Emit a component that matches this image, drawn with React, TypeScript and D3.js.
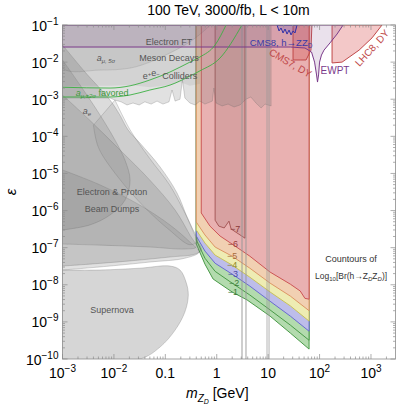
import React from "react";
import * as d3 from "d3";

type Pt = [number, number];

// axis ticks
const xTicks = [1e-3, 1e-2, 0.1, 1, 10, 100, 1000];
const xTickBase = ["10", "10", "0.1", "1", "10", "10", "10"];
const xTickExp = ["−3", "−2", "", "", "", "2", "3"];
const yTicks = [1e-1, 1e-2, 1e-3, 1e-4, 1e-5, 1e-6, 1e-7, 1e-8, 1e-9, 1e-10];
const yTickExp = ["−1", "−2", "−3", "−4", "−5", "−6", "−7", "−8", "−9", "−10"];

// contours of log10 Br(h -> ZD ZD), [mZD GeV, epsilon]
const brM7: Pt[] = [[0.93, 0.1], [0.93, 5.5e-7], [1.1, 3.8e-7], [1.4, 3.4e-7], [1.73, 5.2e-7], [1.9, 3.2e-7], [2.37, 2.6e-7], [3.55, 1.8e-7], [3.55, 0.1]];
const brM6: Pt[] = [[0.5, 0.1], [0.5, 8.6e-7], [0.74, 3.8e-7], [1.16, 2.06e-7], [1.99, 1.25e-7], [4.4, 5.9e-8], [10.9, 2.2e-8], [27, 1.04e-8], [42, 6.8e-9], [52, 4.3e-9], [62.5, 4.1e-9]];
const brM5: Pt[] = [[0.4, 0.1], [0.4, 4.9e-7], [0.59, 2.2e-7], [0.93, 1.04e-7], [1.99, 5.9e-8], [4.4, 2.8e-8], [10.9, 1.11e-8], [27, 4.96e-9], [62.5, 2.0e-9]];
const brM4: Pt[] = [[0.4, 0.1], [0.4, 3.0e-7], [0.59, 1.33e-7], [0.93, 6.3e-8], [1.99, 3.4e-8], [4.4, 1.6e-8], [10.9, 6.4e-9], [27, 2.7e-9], [62.5, 1.05e-9]];
const brM3: Pt[] = [[0.4, 0.1], [0.4, 2.06e-7], [0.59, 8.1e-8], [0.93, 3.8e-8], [1.99, 1.94e-8], [4.4, 9.2e-9], [10.9, 3.6e-9], [27, 1.43e-9], [62.5, 5.6e-10]];
const brM2: Pt[] = [[0.4, 0.1], [0.4, 1.6e-7], [0.59, 5.2e-8], [0.93, 2.3e-8], [1.99, 1.11e-8], [4.4, 5.3e-9], [10.9, 2.1e-9], [27, 8.2e-10], [62.5, 3.2e-10]];
const brM1: Pt[] = [[0.4, 0.1], [0.4, 1.25e-7], [0.59, 3.6e-8], [0.85, 1.43e-8], [1.99, 6.4e-9], [3.9, 3.9e-9], [10.9, 1.43e-9], [27, 5.0e-10], [62.5, 1.85e-10]];
const contourLabels = ["−7", "−6", "−5", "−4", "−3", "−2", "−1"];
const contourLabelM = [2.27, 2.07, 1.99, 1.99, 2.07, 2.17, 2.07];
const contourLabelEps = [3.2e-7, 1.25e-7, 5.9e-8, 3.4e-8, 1.94e-8, 1.11e-8, 6.4e-9];

// existing limits
const eeColliders: Pt[] = [[1e-3, 0.1], [11.4, 0.1], [11.4, 6.6e-4], [8.7, 7.4e-4], [7.3, 5.8e-4], [5.8, 7.9e-4], [4.6, 1.15e-3], [3.7, 1.0e-3], [2.84, 7.0e-4], [2.17, 6.2e-4], [1.66, 7.4e-4], [1.27, 6.6e-4], [0.97, 7.9e-4], [0.88, 2.0e-3], [0.82, 8.9e-4], [0.59, 7.4e-4], [0.47, 8.9e-4], [0.38, 7.0e-4], [0.3, 7.9e-4], [0.24, 1.08e-3], [0.215, 3.3e-3], [0.193, 1.0e-3], [0.155, 8.9e-4], [0.135, 1.77e-3], [0.118, 8.5e-4], [0.09, 7.4e-4], [0.069, 8.9e-4], [0.053, 7.4e-4], [0.04, 8.5e-4], [0.031, 7.0e-4], [0.0235, 7.9e-4], [0.018, 7.0e-4], [0.0138, 8.5e-4], [0.0105, 9.5e-4], [0.0084, 1.08e-3], [1e-3, 1.08e-3]];
const mesonDecays: Pt[] = [[1e-3, 0.1], [0.47, 0.1], [0.47, 2.6e-3], [0.3, 2.3e-3], [0.193, 2.9e-3], [0.123, 2.4e-3], [0.05, 2.1e-3], [0.0206, 2.4e-3], [0.0084, 2.3e-3], [1e-3, 2.3e-3]];
const amu5sigma: Pt[] = [[1e-3, 0.1], [1e-3, 6.9e-3], [0.0054, 6.1e-3], [0.0206, 6.9e-3], [0.05, 0.01], [0.123, 0.0176], [0.3, 0.035], [0.59, 0.073], [0.74, 0.1]];
const bdE137: Pt[] = [[1e-3, 0.029], [0.00274, 0.0054], [0.0084, 9.5e-4], [0.0131, 3.7e-4], [0.0188, 1.5e-4], [0.032, 6.6e-5], [0.079, 1.5e-5], [0.169, 2.96e-6], [0.264, 6.7e-7], [0.414, 1.6e-7], [0.5, 8.6e-8], [0.38, 6.7e-8], [0.123, 5.6e-8], [0.0206, 4.4e-8], [0.0034, 3.6e-8], [1e-3, 3.2e-8]];
const bdE141: Pt[] = [[1e-3, 1.3e-3], [0.0034, 2.7e-4], [0.0131, 4.3e-5], [0.05, 6.6e-6], [0.155, 1.03e-6], [0.3, 2.2e-7], [0.4, 1.04e-7], [0.24, 9.2e-8], [0.05, 1.04e-7], [0.0054, 1.17e-7], [1e-3, 1.25e-7]];
const bdOrsay: Pt[] = [[1e-3, 0.0114], [0.0022, 0.0024], [0.0054, 3.7e-4], [0.0105, 7.9e-5], [0.0164, 2.3e-5], [0.0206, 6.6e-6], [0.0164, 1.9e-6], [0.0084, 7.6e-7], [0.0034, 4.1e-7], [1e-3, 3.0e-7]];
const bdProton: Pt[] = [[1e-3, 1.24e-5], [0.0054, 4.9e-6], [0.032, 1.4e-6], [0.123, 4.1e-7], [0.3, 1.42e-7], [0.45, 7.6e-8], [0.24, 5.2e-8], [0.05, 4.1e-8], [0.0084, 3.2e-8], [1e-3, 2.5e-8]];
const bdU70: Pt[] = [[0.0105, 9.5e-4], [0.0206, 1.5e-4], [0.05, 2.5e-5], [0.12, 5e-6], [0.22, 1.1e-6], [0.33, 3.5e-7], [0.42, 1.5e-7], [0.3, 1.2e-7], [0.12, 3e-7], [0.04, 1.2e-6], [0.012, 8e-6], [0.005, 5e-5], [0.004, 2e-4]];
const supernova: Pt[] = [[1e-3, 2.5e-8], [0.0054, 2.5e-8], [0.032, 2.8e-8], [0.123, 3.2e-8], [0.193, 2.5e-8], [0.253, 1.18e-8], [0.28, 5.3e-9], [0.24, 1.84e-9], [0.155, 6.0e-10], [0.079, 2.1e-10], [0.032, 1e-10], [1e-3, 1e-10]];
const ewpt: Pt[] = [[1e-3, 0.1], [1e-3, 0.0255], [27, 0.0255], [52, 0.024], [69.8, 0.0187], [80, 0.01], [87.5, 0.0045], [91.2, 0.0029], [95.7, 0.0045], [100, 0.01], [109, 0.0155], [122, 0.021], [160, 0.033], [219, 0.057], [287, 0.1]];
const cms7: Pt[] = [[30.5, 0.1], [30.5, 0.0114], [42, 0.0114], [54.6, 0.0114], [68, 0.021], [71, 0.1]];
const lhc8: Pt[] = [[175, 0.1], [175, 0.0095], [274, 0.01], [587, 0.021], [1050, 0.045], [1640, 0.1]];
const cms8: Pt[] = [[14.9, 0.1], [16.3, 0.069], [17.8, 0.083], [19.5, 0.061], [21.3, 0.078], [23.3, 0.057], [25.5, 0.073], [27.9, 0.054], [30.5, 0.069], [33.3, 0.061], [36.5, 0.1]];
const amuUpper: Pt[] = [[1e-3, 0.0021], [0.0084, 0.002], [0.0206, 0.0023], [0.05, 0.0033], [0.123, 0.0054], [0.3, 0.01], [0.47, 0.0137], [0.93, 0.029], [1.52, 0.1]];
const amuLower: Pt[] = [[1e-3, 0.00115], [0.0084, 0.00115], [0.0206, 0.0013], [0.05, 0.00177], [0.123, 0.0024], [0.3, 0.0042], [0.47, 0.0058], [1.16, 0.0129], [3.1, 0.1]];
const vetoLow = [3.0, 3.6, 9.4];
const vetoHigh = [3.2, 3.8, 10.6];

const font = "'Liberation Sans', Arial, Helvetica, sans-serif";

export default function App() {
  const x = d3.scaleLog().domain([1e-3, 3e3]).range([62.5, 395.5]);
  const y = d3.scaleLog().domain([1e-10, 1e-1]).range([359, 25]);
  const line = d3.line<Pt>().x((d) => x(d[0])).y((d) => y(d[1]));
  const smooth = d3.line<Pt>().x((d) => x(d[0])).y((d) => y(d[1])).curve(d3.curveCatmullRom);
  const mono = d3.line<Pt>().x((d) => x(d[0])).y((d) => y(d[1])).curve(d3.curveMonotoneX);
  const corner: Pt = [62.5, 0.1];
  const poly = (pts: Pt[]) => line(pts) + "Z";
  const band = (pts: Pt[]) => line([...pts, corner]) + "Z";

  const bands = [
    { pts: brM1, fill: "#b3dbae", stroke: "#4a9a48" },
    { pts: brM2, fill: "#b3dbae", stroke: "#4a9a48" },
    { pts: brM3, fill: "#bdbdea", stroke: "#6a6ad0" },
    { pts: brM4, fill: "#eeecb3", stroke: "#c9c25a" },
    { pts: brM5, fill: "#f1d0b2", stroke: "#dc9565" },
    { pts: brM6, fill: "#e9b1b1", stroke: "#cc5555" },
  ];
  const labelColors = ["#8a3a3a", "#9a3a3a", "#a86a3a", "#8f8a2a", "#4a4aa8", "#3a7a3a", "#3a7a3a"];

  const grayStyle = { fill: "#777", fillOpacity: 0.22, stroke: "#666", strokeOpacity: 0.45, strokeWidth: 0.6 };

  const minorX: number[] = [];
  for (let k = -3; k <= 3; k++) for (let j = 2; j <= 9; j++) if (j * 10 ** k < 3e3) minorX.push(j * 10 ** k);
  const minorY: number[] = [];
  for (let k = -10; k <= -2; k++) for (let j = 2; j <= 9; j++) minorY.push(j * 10 ** k);

  const x0 = 62.5, x1 = 395.5, y0 = 25, y1 = 359;
  const tickColor = "#8c8c8c";

  return (
    <svg width={399} height={408} style={{ position: "absolute", left: 0, top: 0, fontFamily: font }}>
      <defs>
        <clipPath id="plot">
          <rect x={x0} y={y0} width={x1 - x0} height={y1 - y0} />
        </clipPath>
      </defs>
      <rect x={0} y={0} width={399} height={408} fill="#fff" />
      <g clipPath="url(#plot)">
        {bands.map((b, i) => (
          <path key={i} d={band(b.pts)} fill={b.fill} stroke={b.stroke} strokeWidth={1} />
        ))}
        <path d={poly(brM7)} fill="#7a4a4a" fillOpacity={0.15} stroke="#a05050" strokeWidth={0.9} />

        <path d={smooth(supernova) + "Z"} {...grayStyle} fillOpacity={0.3} />
        <path d={smooth(bdProton) + "Z"} {...grayStyle} />
        <path d={smooth(bdU70) + "Z"} {...grayStyle} fillOpacity={0.14} />
        <path d={smooth(bdE141) + "Z"} {...grayStyle} />
        <path d={smooth(bdOrsay) + "Z"} {...grayStyle} />
        <path d={smooth(bdE137) + "Z"} {...grayStyle} fillOpacity={0.26} />
        <path d={poly(eeColliders)} {...grayStyle} />
        <path d={poly(mesonDecays)} fill="#777" fillOpacity={0.12} stroke="none" />
        <path d={smooth(amu5sigma) + "Z"} {...grayStyle} fillOpacity={0.12} strokeOpacity={0.3} />

        {vetoLow.map((v, i) => (
          <rect key={i} x={x(v)} y={y0} width={x(vetoHigh[i]) - x(v)} height={y1 - y0}
            fill="#999" fillOpacity={0.35} stroke="#999" strokeOpacity={0.6} strokeWidth={0.5} />
        ))}

        <path d={poly(cms7)} fill="#d04a4a" fillOpacity={0.3} stroke="#c04848" strokeWidth={1} />
        <path d={poly(lhc8)} fill="#d84a4a" fillOpacity={0.3} stroke="#c04848" strokeWidth={1} />
        <path d={poly(ewpt)} fill="#8a5a96" fillOpacity={0.18} stroke="#7a3a8a" strokeWidth={1} />
        <path d={poly(cms8)} fill="#4040c0" fillOpacity={0.18} stroke="#3030a8" strokeWidth={1} />

        <path d={mono(amuUpper) ?? ""} fill="none" stroke="#3cb043" strokeWidth={0.9} />
        <path d={mono(amuLower) ?? ""} fill="none" stroke="#3cb043" strokeWidth={0.9} />
      </g>

      {/* region labels */}
      <g fill="#555" fontSize={9} textAnchor="middle">
        <text x={x(0.118)} y={y(0.036)} dy="0.35em">Electron FT</text>
        <text x={x(0.118)} y={y(0.0129)} dy="0.35em">Meson Decays</text>
        <text x={x(0.123)} y={y(0.0042)} dy="0.35em">
          e<tspan dy={-3} fontSize={6}>+</tspan><tspan dy={0}>e</tspan><tspan dy={0} fontSize={6}>−</tspan><tspan dy={3}> Colliders</tspan>
        </text>
        <text x={x(0.007)} y={y(0.0129)} dy="0.35em">
          <tspan fontStyle="italic">a</tspan><tspan dy={2} fontSize={6} fontStyle="italic">μ, 5σ</tspan>
        </text>
        <text x={x(0.003)} y={y(4.8e-4)} dy="0.35em">
          <tspan fontStyle="italic">a</tspan><tspan dy={2} fontSize={6} fontStyle="italic">e</tspan>
        </text>
        <text x={x(0.0092)} y={y(3.2e-6)} dy="0.35em">Electron &amp; Proton</text>
        <text x={x(0.0092)} y={y(1.1e-6)} dy="0.35em">Beam Dumps</text>
        <text x={x(0.0092)} y={y(2.1e-9)} dy="0.35em">Supernova</text>
      </g>
      <text x={x(0.0059)} y={y(0.00147)} dy="0.35em" fill="#3a9a3a" fontSize={9} textAnchor="middle">
        <tspan fontStyle="italic">a</tspan><tspan dy={2} fontSize={6} fontStyle="italic">μ,±2σ</tspan><tspan dy={-2}> favored</tspan>
      </text>
      <text x={x(410)} y={y(4.9e-8)} dy="0.35em" fill="#333" fontSize={9} textAnchor="middle">Countours of</text>
      <text x={x(410)} y={y(1.7e-8)} dy="0.35em" fill="#333" fontSize={8.5} textAnchor="middle">
        Log<tspan dy={2} fontSize={6}>10</tspan><tspan dy={-2}>[Br(h→Z</tspan><tspan dy={2} fontSize={6} fontStyle="italic">D</tspan><tspan dy={-2}>Z</tspan><tspan dy={2} fontSize={6} fontStyle="italic">D</tspan><tspan dy={-2}>)]</tspan>
      </text>
      <text x={x(17.8)} y={y(0.033)} dy="0.35em" fill="#3a3aa8" fontSize={9.5} textAnchor="middle">
        CMS8, h→ZZ<tspan dy={2} fontSize={6.5}>D</tspan>
      </text>
      <text transform={`translate(${x(27)},${y(0.0095)}) rotate(30)`} dy="0.35em" fill="#c04848" fontSize={10} textAnchor="middle">CMS7, DY</text>
      <text transform={`translate(${x(1050)},${y(0.024)}) rotate(-48)`} dy="0.35em" fill="#c04848" fontSize={10} textAnchor="middle">LHC8, DY</text>
      <text x={x(200)} y={y(0.0058)} dy="0.35em" fill="#7a3a8a" fontSize={10} textAnchor="middle">EWPT</text>

      {contourLabels.map((t, i) => (
        <text key={i} x={x(contourLabelM[i])} y={y(contourLabelEps[i])} dy="0.33em" fill={labelColors[i]} fontSize={9} textAnchor="middle">{t}</text>
      ))}

      {/* frame and ticks */}
      <rect x={x0} y={y0} width={x1 - x0} height={y1 - y0} fill="none" stroke={tickColor} strokeWidth={0.8} />
      <g stroke={tickColor} strokeWidth={0.7}>
        {xTicks.map((v) => (
          <g key={"xm" + v}>
            <line x1={x(v)} x2={x(v)} y1={y1} y2={y1 - 5} />
            <line x1={x(v)} x2={x(v)} y1={y0} y2={y0 + 5} />
          </g>
        ))}
        {minorX.map((v) => (
          <g key={"xn" + v}>
            <line x1={x(v)} x2={x(v)} y1={y1} y2={y1 - 2.5} />
            <line x1={x(v)} x2={x(v)} y1={y0} y2={y0 + 2.5} />
          </g>
        ))}
        {yTicks.map((v) => (
          <g key={"ym" + v}>
            <line x1={x0} x2={x0 + 5} y1={y(v)} y2={y(v)} />
            <line x1={x1} x2={x1 - 5} y1={y(v)} y2={y(v)} />
          </g>
        ))}
        {minorY.map((v) => (
          <g key={"yn" + v}>
            <line x1={x0} x2={x0 + 2.5} y1={y(v)} y2={y(v)} />
            <line x1={x1} x2={x1 - 2.5} y1={y(v)} y2={y(v)} />
          </g>
        ))}
      </g>

      {/* tick labels */}
      <g fontSize={14} fill="#000">
        {xTicks.map((v, i) => (
          <text key={"xl" + v} x={x(v)} y={378} textAnchor="middle">
            {xTickBase[i]}
            {xTickExp[i] && <tspan dy={-6} fontSize={10}>{xTickExp[i]}</tspan>}
          </text>
        ))}
        {yTicks.map((v, i) => (
          <text key={"yl" + v} x={58.5} y={y(v) + 5.5} textAnchor="end">
            10<tspan dy={-6} fontSize={10}>{yTickExp[i]}</tspan>
          </text>
        ))}
      </g>

      <text x={228.5} y={15} textAnchor="middle" fontSize={14}>100 TeV, 3000/fb, L &lt; 10m</text>
      <text x={186} y={398} fontSize={14}>
        <tspan fontStyle="italic">m</tspan>
        <tspan dy={4} fontSize={10} fontStyle="italic">Z</tspan>
        <tspan dy={2} fontSize={7} fontStyle="italic">D</tspan>
        <tspan dy={-6}> [GeV]</tspan>
      </text>
      <text transform="translate(16,192) rotate(-90)" textAnchor="middle" fontSize={15} fontStyle="italic">ε</text>
    </svg>
  );
}
